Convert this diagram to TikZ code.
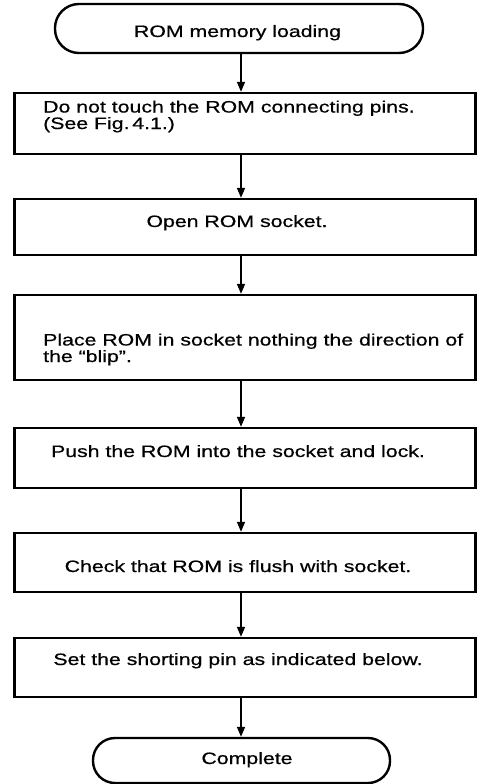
\documentclass[tikz,border=0pt]{standalone}
\usepackage{fontspec}
\setmainfont{Liberation Sans}[FakeStretch=1.29,FakeBold=0.6]
\usetikzlibrary{arrows.meta}
\tikzset{
  box/.style={draw, line width=2.4bp, minimum width=461bp, inner sep=0pt},
  term/.style={draw, line width=2.4bp, inner sep=0pt},
  txt/.style={inner sep=0pt, font=\fontsize{16.5bp}{16.5bp}\selectfont},
  arr/.style={line width=1.6bp, -{Triangle[length=10bp,width=8bp]}}
}
\begin{document}
\begin{tikzpicture}[x=1bp,y=-1bp]
\useasboundingbox (0,0) rectangle (477,784);
% shapes
\node[term, minimum width=368bp, minimum height=49bp, rounded corners=24bp] (t1) at (239,28.5) {};
\node[box, minimum height=61bp] (b1) at (245,123.5) {};
\node[box, minimum height=56bp] (b2) at (245,227) {};
\node[box, minimum height=85bp] (b3) at (245,337.5) {};
\node[box, minimum height=60bp] (b4) at (245,458) {};
\node[box, minimum height=59bp] (b5) at (245,562.5) {};
\node[box, minimum height=59bp] (b6) at (245,667.5) {};
\node[term, minimum width=297bp, minimum height=45bp, rounded corners=22bp] (t2) at (241.5,760.5) {};
% texts
\node[txt, anchor=base] (x1) at (237.5,37) {ROM memory loading};
\node[txt, anchor=base west, align=left] (x2) at (43,129) {Do not touch the ROM connecting pins.\\(See Fig.\,4.1.)};
\node[txt, anchor=base] (x3) at (237,227) {Open ROM socket.};
\node[txt, anchor=base west, align=left] (x4) at (43,362) {Place ROM in socket nothing the direction of\\the ``blip''.};
\node[txt, anchor=base] (x5) at (238,457) {Push the ROM into the socket and lock.};
\node[txt, anchor=base] (x6) at (238,572) {Check that ROM is flush with socket.};
\node[txt, anchor=base] (x7) at (238,665) {Set the shorting pin as indicated below.};
\node[txt, anchor=base] (x8) at (247,764) {Complete};
% connectors
\coordinate (ax) at (241,0);
\draw[arr] (t1.south -| ax) -- (b1.north -| ax);
\draw[arr] (b1.south -| ax) -- (b2.north -| ax);
\draw[arr] (b2.south -| ax) -- (b3.north -| ax);
\draw[arr] (b3.south -| ax) -- (b4.north -| ax);
\draw[arr] (b4.south -| ax) -- (b5.north -| ax);
\draw[arr] (b5.south -| ax) -- (b6.north -| ax);
\draw[arr] (b6.south -| ax) -- (t2.north -| ax);
\end{tikzpicture}
\end{document}
